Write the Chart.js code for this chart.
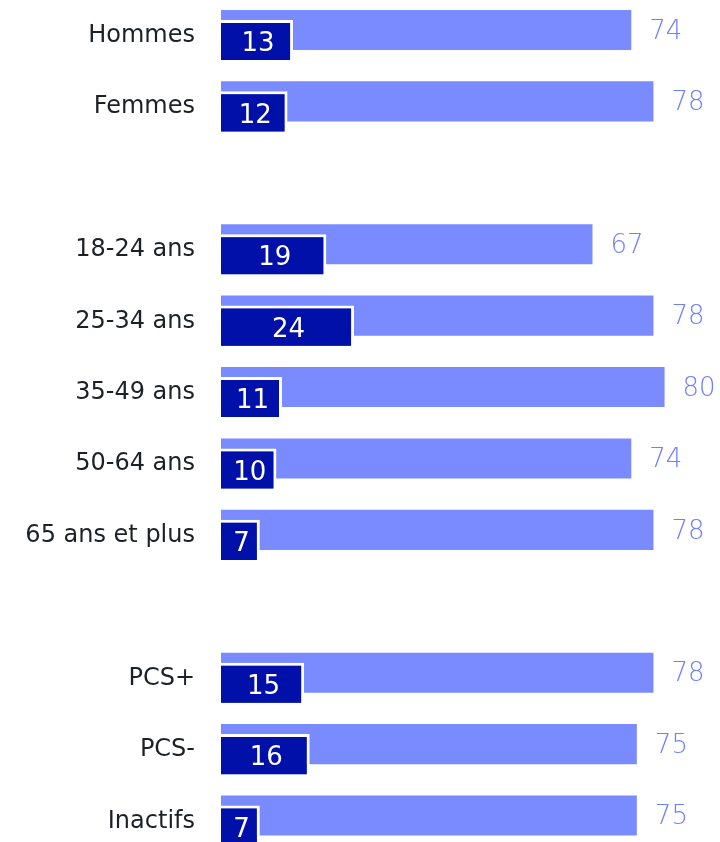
<!DOCTYPE html>
<html>
<head>
<meta charset="utf-8">
<script src="https://cdn.jsdelivr.net/npm/chart.js@4"></script>
<style>
  html, body { margin: 0; padding: 0; background: #fff; overflow: hidden; }
  #wrap { position: relative; width: 720px; height: 857px; }
</style>
</head>
<body>
<div id="wrap"><canvas id="chart"></canvas></div>
<script>
// categories (empty strings are the gaps between groups)
const categories = ['Hommes', 'Femmes', '', '18-24 ans', '25-34 ans', '35-49 ans', '50-64 ans',
  '65 ans et plus', '', 'PCS+', 'PCS-', 'Inactifs'];
// long light bars
const totalValues = [74, 78, null, 67, 78, 80, 74, 78, null, 78, 75, 75];
// short dark bars
const strongValues = [13, 12, null, 19, 24, 11, 10, 7, null, 15, 16, 7];

const LIGHT = '#7a8bff';
const DARK = '#0010a8';
const FONT = '"DejaVu Sans", sans-serif';

// draws the dark bars above the light ones, then the value labels
const valueLabels = {
  id: 'valueLabels',
  afterDatasetsDraw(chart) {
    const ctx = chart.ctx;
    chart.getDatasetMeta(1).controller.draw();
    ctx.save();
    ctx.textBaseline = 'middle';

    ctx.font = '300 26px ' + FONT;
    chart.getDatasetMeta(0).data.forEach((bar, i) => {
      if (totalValues[i] == null) return;
      ctx.fillStyle = '#6c7fff';
      ctx.textAlign = 'left';
      ctx.fillText(totalValues[i], bar.x + 18, bar.y + 2);
    });
    ctx.font = '26px ' + FONT;
    chart.getDatasetMeta(1).data.forEach((bar, i) => {
      if (strongValues[i] == null) return;
      ctx.fillStyle = '#ffffff';
      ctx.textAlign = 'center';
      ctx.fillText(strongValues[i], (bar.x + bar.base) / 2 + 1, bar.y + 3);
    });
    ctx.restore();
  }
};

new Chart(document.getElementById('chart'), {
  type: 'bar',
  data: {
    labels: categories,
    datasets: [
      {
        data: totalValues,
        backgroundColor: LIGHT,
        borderWidth: 0,
        categoryPercentage: 0.322,
        barPercentage: 3.48
      },
      {
        data: strongValues,
        backgroundColor: DARK,
        borderColor: '#ffffff',
        borderWidth: 3,
        borderSkipped: 'start',
        categoryPercentage: 0.322,
        barPercentage: 3.74
      }
    ]
  },
  options: {
    indexAxis: 'y',
    responsive: true,
    maintainAspectRatio: false,
    animation: false,
    layout: { padding: 0 },
    plugins: {
      legend: { display: false },
      tooltip: { enabled: false }
    },
    scales: {
      x: {
        display: false,
        min: 0,
        max: 90
      },
      y: {
        grid: { display: false, drawTicks: false },
        border: { display: false },
        afterFit: scale => {
          scale.width = 221;
          scale.paddingTop = 0;
          scale.paddingBottom = 0;
        },
        ticks: {
          padding: 26,
          color: '#1c2128',
          font: { family: FONT, size: 24 },
          autoSkip: false
        }
      }
    }
  },
  plugins: [valueLabels]
});
</script>
</body>
</html>
